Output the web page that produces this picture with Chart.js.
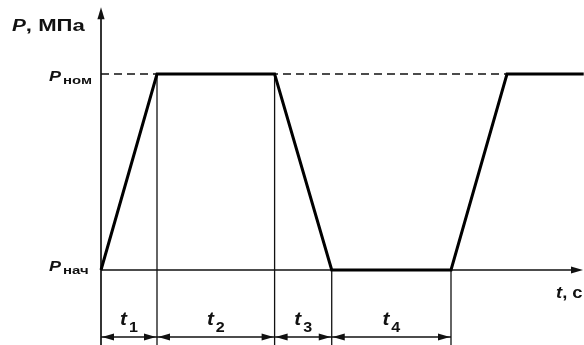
<!DOCTYPE html>
<html>
<head>
<meta charset="utf-8">
<script src="https://cdn.jsdelivr.net/npm/chart.js@4/dist/chart.umd.min.js"></script>
<style>
html,body{margin:0;padding:0;background:#fff;}
#c{display:block;}
</style>
</head>
<body>
<canvas id="c" width="584" height="345"></canvas>
<script>
// Time points of the pressure cycle (arbitrary units) and pressure levels (0 = Pнач, 1 = Pном)
const times = [0, 1.0, 3.1, 4.12, 6.25, 7.25, 8.62];
const pressure = [0, 1, 1, 0, 0, 1, 1];
// Boundaries of the dimensioned intervals t1..t4
const intervalBounds = [0, 1.0, 3.1, 4.12, 6.25];
const intervalLabels = ['1', '2', '3', '4'];
// Axis / level labels
const yAxisLabel = ['P', ', МПа'];
const xAxisLabel = ['t', ', с'];
const levelLabels = [{value: 1, sub: 'ном'}, {value: 0, sub: 'нач'}];

const X_MIN = -1.8036, X_MAX = 8.625;
const Y_MIN = -0.3827, Y_MAX = 1.3776;
const Y_ARROW = 1.34;   // top of the P axis arrow
const DIM_LEVEL = -0.342; // level of dimension line

const FAM = '"Liberation Sans", Arial, sans-serif';

function arrowHead(ctx, x, y, dx, dy, len, half) {
  const px = -dy, py = dx;
  ctx.beginPath();
  ctx.moveTo(x, y);
  ctx.lineTo(x - dx*len + px*half, y - dy*len + py*half);
  ctx.lineTo(x - dx*len - px*half, y - dy*len - py*half);
  ctx.closePath();
  ctx.fill();
}

// draws text stretched horizontally by sx; returns drawn width
function wideText(ctx, text, x, y, font, sx) {
  ctx.font = font;
  const w = ctx.measureText(text).width * sx;
  ctx.save();
  ctx.translate(x, y);
  ctx.scale(sx, 1);
  ctx.fillText(text, 0, 0);
  ctx.restore();
  return w;
}
function textWidth(ctx, text, font, sx) {
  ctx.font = font;
  return ctx.measureText(text).width * sx;
}

const schematic = {
  id: 'schematic',
  beforeDatasetsDraw(chart) {
    const ctx = chart.ctx, xs = chart.scales.x, ys = chart.scales.y;
    const X = v => xs.getPixelForValue(v), Y = v => ys.getPixelForValue(v);
    ctx.save();
    ctx.strokeStyle = '#111'; ctx.fillStyle = '#111';
    // dashed nominal level line
    ctx.lineWidth = 1.5;
    ctx.setLineDash([8, 5]);
    ctx.beginPath(); ctx.moveTo(X(0), Y(1)); ctx.lineTo(X(times[5]), Y(1)); ctx.stroke();
    ctx.setLineDash([]);
    // axes
    ctx.lineWidth = 1.7;
    ctx.beginPath(); ctx.moveTo(X(0), ys.bottom); ctx.lineTo(X(0), Y(Y_ARROW) + 6); ctx.stroke();
    arrowHead(ctx, X(0), Y(Y_ARROW), 0, -1, 12, 3.6);
    ctx.beginPath(); ctx.moveTo(X(0), Y(0)); ctx.lineTo(xs.right - 6, Y(0)); ctx.stroke();
    arrowHead(ctx, xs.right - 1, Y(0), 1, 0, 12, 3.6);
    // extension (vertical) lines
    ctx.lineWidth = 1.3;
    intervalBounds.forEach((t, i) => {
      if (i === 0) return;
      const idx = times.indexOf(t);
      const top = Y(pressure[idx]);
      ctx.beginPath(); ctx.moveTo(X(t), top); ctx.lineTo(X(t), ys.bottom); ctx.stroke();
    });
    // dimension line with arrows
    const yd = Y(DIM_LEVEL);
    ctx.lineWidth = 1.3;
    ctx.beginPath(); ctx.moveTo(X(intervalBounds[0]), yd); ctx.lineTo(X(intervalBounds[intervalBounds.length-1]), yd); ctx.stroke();
    for (let i = 0; i < intervalBounds.length - 1; i++) {
      const a = X(intervalBounds[i]) + 1, b = X(intervalBounds[i+1]) - 1;
      arrowHead(ctx, a, yd, -1, 0, 12, 3.4);
      arrowHead(ctx, b, yd, 1, 0, 12, 3.4);
    }
    ctx.restore();
  },
  afterDraw(chart) {
    const ctx = chart.ctx, xs = chart.scales.x, ys = chart.scales.y;
    const X = v => xs.getPixelForValue(v), Y = v => ys.getPixelForValue(v);
    ctx.save();
    ctx.fillStyle = '#111';
    ctx.textBaseline = 'alphabetic';
    ctx.textAlign = 'left';
    const bigI = 'italic bold 16px ' + FAM;
    const big = 'bold 16px ' + FAM;
    // P, МПа
    let x0 = 12;
    x0 += wideText(ctx, yAxisLabel[0], x0, 31, bigI, 1.3);
    wideText(ctx, yAxisLabel[1], x0, 31, big, 1.38);
    // level labels
    levelLabels.forEach(l => {
      const y = Y(l.value);
      const off = l.value === 1 ? 7 : 1;
      wideText(ctx, 'P', 49, y + off, 'italic bold 15px ' + FAM, 1.2);
      wideText(ctx, l.sub, 63, y + off + 3, 'bold 11.5px ' + FAM, 1.3);
    });
    // t, с
    let xt = 556;
    xt += wideText(ctx, xAxisLabel[0], xt, 298, bigI, 1.15);
    wideText(ctx, xAxisLabel[1], xt, 298, big, 1.15);
    // interval labels
    const tFont = 'italic bold 18px ' + FAM, sFont = 'bold 14px ' + FAM;
    for (let i = 0; i < intervalLabels.length; i++) {
      const cx = (X(intervalBounds[i]) + X(intervalBounds[i+1])) / 2;
      const wt = textWidth(ctx, 't', tFont, 1.15);
      const ws = textWidth(ctx, intervalLabels[i], sFont, 1.15);
      const start = cx - (wt + ws + 2) / 2;
      wideText(ctx, 't', start, 325, tFont, 1.15);
      wideText(ctx, intervalLabels[i], start + wt + 2, 332, sFont, 1.15);
    }
    ctx.restore();
  }
};

new Chart(document.getElementById('c'), {
  type: 'line',
  data: {
    datasets: [{
      data: times.map((t, i) => ({x: t, y: pressure[i]})),
      borderColor: '#000',
      borderWidth: 3,
      pointRadius: 0,
      tension: 0,
      fill: false,
      clip: false
    }]
  },
  options: {
    responsive: false,
    animation: false,
    devicePixelRatio: 1,
    layout: {padding: 0},
    plugins: {legend: {display: false}, tooltip: {enabled: false}, title: {display: false}},
    scales: {
      x: {type: 'linear', min: X_MIN, max: X_MAX, display: false},
      y: {type: 'linear', min: Y_MIN, max: Y_MAX, display: false}
    }
  },
  plugins: [schematic]
});
</script>
</body>
</html>
